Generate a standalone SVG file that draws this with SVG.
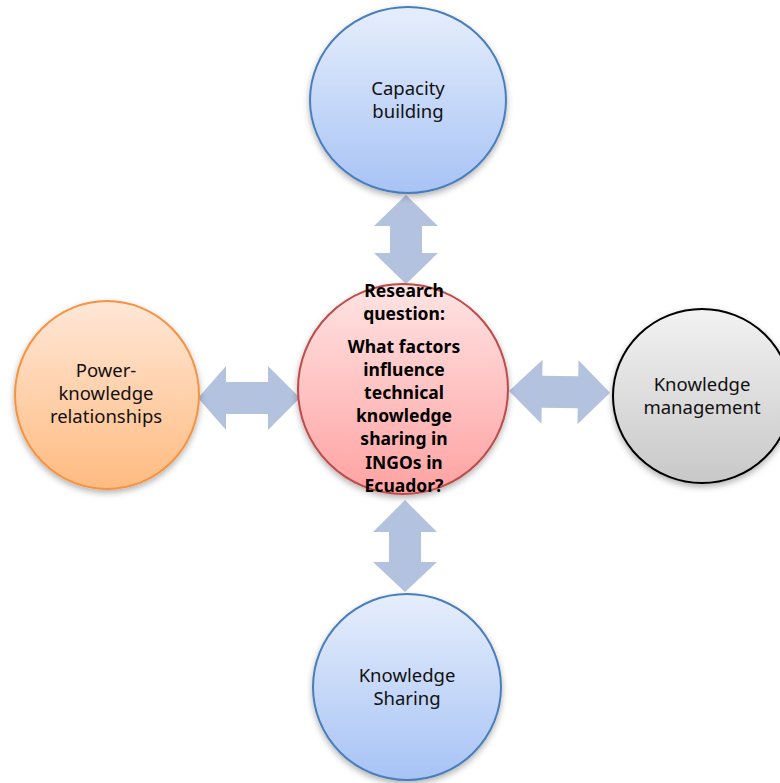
<svg xmlns="http://www.w3.org/2000/svg" width="780" height="783" viewBox="0 0 780 783">
  <defs>
    <linearGradient id="gBlue" x1="0" y1="0" x2="0" y2="1">
      <stop offset="0" stop-color="#E6EEFC"/>
      <stop offset="1" stop-color="#A7C3F5"/>
    </linearGradient>
    <linearGradient id="gRed" x1="0" y1="0" x2="0" y2="1">
      <stop offset="0" stop-color="#FFE4E4"/>
      <stop offset="1" stop-color="#FFA2A2"/>
    </linearGradient>
    <linearGradient id="gOrange" x1="0" y1="0" x2="0" y2="1">
      <stop offset="0" stop-color="#FFE7D7"/>
      <stop offset="1" stop-color="#FFBB80"/>
    </linearGradient>
    <linearGradient id="gGrey" x1="0" y1="0" x2="0" y2="1">
      <stop offset="0" stop-color="#F2F2F2"/>
      <stop offset="1" stop-color="#C8C8C8"/>
    </linearGradient>
    <filter id="shadow" x="-20%" y="-20%" width="140%" height="150%">
      <feDropShadow dx="0" dy="3" stdDeviation="3" flood-color="#000" flood-opacity="0.3"/>
    </filter>
  </defs>
  <style>
    .node { stroke-width: 2; filter: url(#shadow); }
    .blue { fill: url(#gBlue); stroke: #4A7EBB; }
    .red { fill: url(#gRed); stroke: #BE4B48; }
    .orange { fill: url(#gOrange); stroke: #F69240; }
    .grey { fill: url(#gGrey); stroke: #000; }
    .arrow { fill: #B3C2DE; }
    .lbl { font-family: "Noto Sans", "Open Sans", sans-serif; font-size: 18.5px; fill: #111; text-anchor: middle; }
    .q { font-family: "Noto Sans", "Open Sans", sans-serif; font-size: 17.5px; font-weight: bold; fill: #000; text-anchor: middle; }
  </style>
  <rect width="780" height="783" fill="#fff"/>

  <!-- double-headed block arrows between the hub and each theme -->
  <g id="connectors">
    <path class="arrow" d="M406,195 L438,226 L422,226 L422,253 L438,253 L406,284 L374,253 L390,253 L390,226 L374,226 Z"/>
    <path class="arrow" d="M405,500 L437,532 L421,532 L421,562 L437,562 L405,592 L373,562 L389,562 L389,532 L373,532 Z"/>
    <path class="arrow" d="M198,398 L226,366 L226,382 L268,382 L268,366 L300,398 L268,430 L268,414 L226,414 L226,430 Z"/>
    <path class="arrow" transform="rotate(1 560 392)" d="M509,392 L542,360 L542,376 L578,376 L578,360 L610,392 L578,424 L578,408 L542,408 L542,424 Z"/>
  </g>

  <g id="capacity-building">
    <ellipse class="node blue" cx="408" cy="100" rx="98" ry="93"/>
    <text class="lbl" x="408" y="95">Capacity</text>
    <text class="lbl" x="408" y="118">building</text>
  </g>

  <g id="power-knowledge">
    <ellipse class="node orange" cx="107" cy="395" rx="92" ry="94"/>
    <text class="lbl" x="106" y="377">Power-</text>
    <text class="lbl" x="106" y="400">knowledge</text>
    <text class="lbl" x="106" y="423">relationships</text>
  </g>

  <g id="knowledge-management">
    <ellipse class="node grey" cx="702" cy="396" rx="89" ry="87"/>
    <text class="lbl" x="702" y="391">Knowledge</text>
    <text class="lbl" x="702" y="414">management</text>
  </g>

  <g id="knowledge-sharing">
    <ellipse class="node blue" cx="407" cy="687" rx="94" ry="93"/>
    <text class="lbl" x="407" y="682">Knowledge</text>
    <text class="lbl" x="407" y="705">Sharing</text>
  </g>

  <g id="research-question">
    <ellipse class="node red" cx="403" cy="389" rx="105" ry="105"/>
    <text class="q" x="404" y="297">Research</text>
    <text class="q" x="404" y="320">question:</text>
    <text class="q" x="404" y="353">What factors</text>
    <text class="q" x="404" y="376">influence</text>
    <text class="q" x="404" y="399">technical</text>
    <text class="q" x="404" y="422">knowledge</text>
    <text class="q" x="404" y="445">sharing in</text>
    <text class="q" x="404" y="469">INGOs in</text>
    <text class="q" x="404" y="492">Ecuador?</text>
  </g>
</svg>
